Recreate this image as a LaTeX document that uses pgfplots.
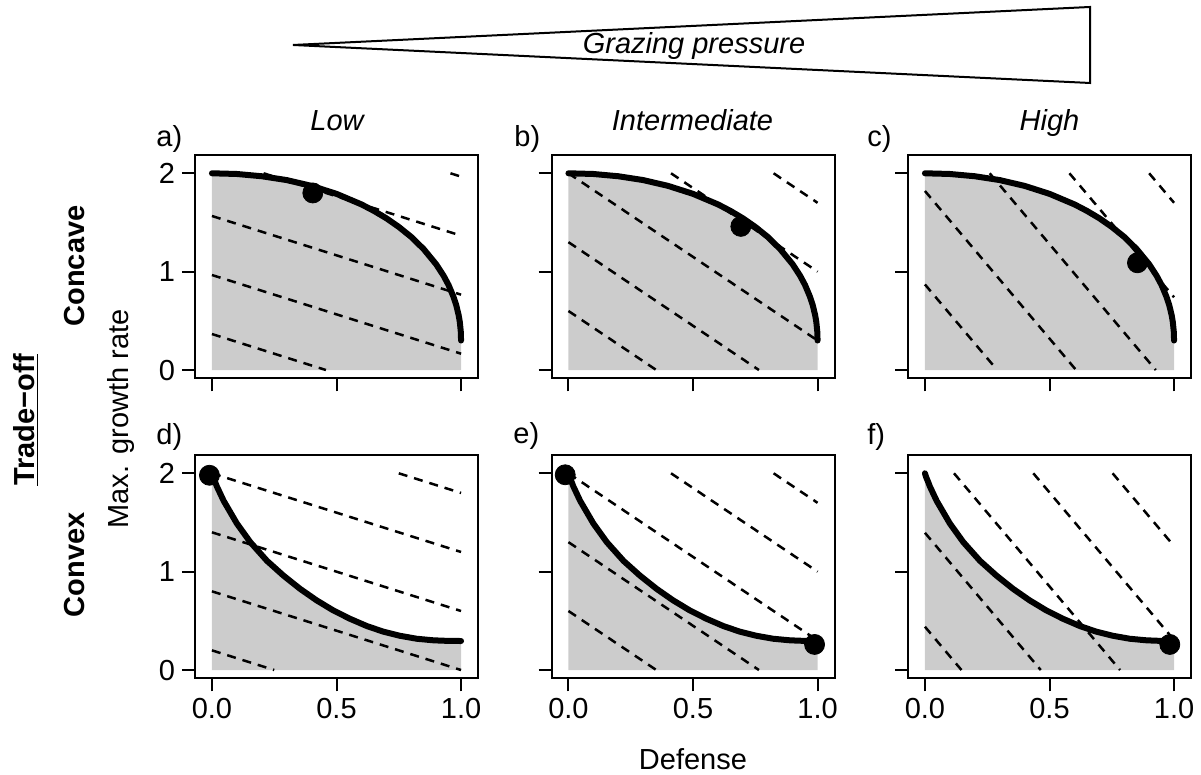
\documentclass[border=0pt]{standalone}
\usepackage{fontspec}
\setmainfont{Liberation Sans}
\usepackage{pgfplots}
\pgfplotsset{compat=1.18}
\usepackage{pgfplotstable}
\definecolor{fillgray}{RGB}{204,204,204}
\newcommand\fs{\fontsize{14.5}{17.4}\selectfont}

\pgfplotstableread{
x y
0 2.000
0.1 1.993
0.2 1.970
0.3 1.931
0.4 1.872
0.5 1.791
0.6 1.684
0.65 1.618
0.7 1.543
0.75 1.455
0.8 1.353
0.85 1.229
0.9 1.075
0.93 0.958
0.95 0.863
0.97 0.742
0.98 0.665
0.99 0.562
0.995 0.488
0.999 0.387
1.0 0.300
}\concave

\pgfplotstableread{
x y
0 2.000
0.005 1.960
0.01 1.930
0.02 1.865
0.047 1.720
0.1 1.490
0.154 1.300
0.221 1.110
0.287 0.960
0.354 0.825
0.421 0.707
0.488 0.605
0.555 0.520
0.622 0.447
0.688 0.390
0.755 0.348
0.822 0.318
0.889 0.302
0.95 0.296
1.0 0.295
}\convex

\pgfplotsset{
  panel/.style={
    scale only axis, width=141.5pt, height=111.65pt,
    xmin=-0.068, xmax=1.068, ymin=-0.084, ymax=2.186,
    xtick={0,0.5,1}, ytick={0,1,2},
    tick align=outside, xtick pos=left, ytick pos=left,
    major tick length=6.5pt,
    tick style={black, line width=1pt},
    axis line style={line width=1pt},
    xticklabels={}, yticklabels={},
    ticklabel style={font=\fs},
    /pgf/number format/assume math mode=true,
    anchor=south west,
  },
  dsh/.style={black, line width=1.25pt, dash pattern=on 4.5pt off 3.5pt},
  trade/.style={black, line width=3pt, line cap=round, line join=round},
  dot/.style={only marks, mark=*, mark size=5pt, black},
  gfill/.style={fill=fillgray, draw=none},
}

\begin{document}
\begin{tikzpicture}[x=0.5pt, y=0.5pt, font=\fs]
\useasboundingbox (0,0) rectangle (1201,775);

% a) concave, low
\begin{axis}[panel, at={(97.5pt,198.35pt)}, yticklabels={0,1,2}]
\addplot[gfill] table {\concave} \closedcycle;
\addplot[dsh] coordinates {(0,0.366) (0.4575,0)};
\addplot[dsh] coordinates {(0,0.966) (1,0.166)};
\addplot[dsh] coordinates {(0,1.566) (1,0.766)};
\addplot[dsh] coordinates {(0.2075,2) (1,1.366)};
\addplot[dsh] coordinates {(0.9575,2) (1,1.966)};
\addplot[trade] table {\concave};
\addplot[dot] coordinates {(0.405,1.80)};
\end{axis}

% b) concave, intermediate
\begin{axis}[panel, at={(275.75pt,198.35pt)}]
\addplot[gfill] table {\concave} \closedcycle;
\addplot[dsh] coordinates {(0,0.6) (0.3529,0)};
\addplot[dsh] coordinates {(0,1.3) (0.7647,0)};
\addplot[dsh] coordinates {(0,2) (1,0.3)};
\addplot[dsh] coordinates {(0.4118,2) (1,1.0)};
\addplot[dsh] coordinates {(0.8235,2) (1,1.7)};
\addplot[trade] table {\concave};
\addplot[dot] coordinates {(0.692,1.46)};
\end{axis}

% c) concave, high
\begin{axis}[panel, at={(454pt,198.35pt)}]
\addplot[gfill] table {\concave} \closedcycle;
\addplot[dsh] coordinates {(0,0.87) (0.29,0)};
\addplot[dsh] coordinates {(0,1.82) (0.6067,0)};
\addplot[dsh] coordinates {(0.26,2) (0.9267,0)};
\addplot[dsh] coordinates {(0.58,2) (1,0.74)};
\addplot[dsh] coordinates {(0.9,2) (1,1.7)};
\addplot[trade] table {\concave};
\addplot[dot] coordinates {(0.853,1.09)};
\end{axis}

% d) convex, low
\begin{axis}[panel, at={(97.5pt,48.35pt)}, yticklabels={0,1,2}, xticklabels={0.0,0.5,1.0}]
\addplot[gfill] table {\convex} \closedcycle;
\addplot[dsh] coordinates {(0,0.2) (0.25,0)};
\addplot[dsh] coordinates {(0,0.8) (1,0)};
\addplot[dsh] coordinates {(0,1.4) (1,0.6)};
\addplot[dsh] coordinates {(0,2) (1,1.2)};
\addplot[dsh] coordinates {(0.75,2) (1,1.8)};
\addplot[trade] table {\convex};
\addplot[dot] coordinates {(-0.01,1.98)};
\end{axis}

% e) convex, intermediate
\begin{axis}[panel, at={(275.75pt,48.35pt)}, xticklabels={0.0,0.5,1.0}]
\addplot[gfill] table {\convex} \closedcycle;
\addplot[dsh] coordinates {(0,0.6) (0.3529,0)};
\addplot[dsh] coordinates {(0,1.3) (0.7647,0)};
\addplot[dsh] coordinates {(0,2) (1,0.3)};
\addplot[dsh] coordinates {(0.4118,2) (1,1.0)};
\addplot[dsh] coordinates {(0.8235,2) (1,1.7)};
\addplot[trade] table {\convex};
\addplot[dot] coordinates {(-0.013,1.985) (0.988,0.26)};
\end{axis}

% f) convex, high
\begin{axis}[panel, at={(454pt,48.35pt)}, xticklabels={0.0,0.5,1.0}]
\addplot[gfill] table {\convex} \closedcycle;
\addplot[dsh] coordinates {(0,0.44) (0.1467,0)};
\addplot[dsh] coordinates {(0,1.395) (0.465,0)};
\addplot[dsh] coordinates {(0.1167,2) (0.7833,0)};
\addplot[dsh] coordinates {(0.435,2) (1,0.305)};
\addplot[dsh] coordinates {(0.7533,2) (1,1.26)};
\addplot[trade] table {\convex};
\addplot[dot] coordinates {(0.983,0.26)};
\end{axis}

% grazing pressure wedge
\draw[line width=1pt, line join=miter] (293,730) -- (1090,768) -- (1090,692) -- cycle;
\node[inner sep=0pt, font=\fs\itshape] at (694,729) {Grazing pressure};

% column titles
\node[inner sep=0pt, anchor=base, font=\fs\itshape] at (337,644) {Low};
\node[inner sep=0pt, anchor=base, font=\fs\itshape] at (692.5,644) {Intermediate};
\node[inner sep=0pt, anchor=base, font=\fs\itshape] at (1049.5,644) {High};

% panel letters
\node[inner sep=0pt, anchor=base west] at (156,628) {a)};
\node[inner sep=0pt, anchor=base west] at (514,628) {b)};
\node[inner sep=0pt, anchor=base west] at (867,628) {c)};
\node[inner sep=0pt, anchor=base west] at (156,330) {d)};
\node[inner sep=0pt, anchor=base west] at (513,331) {e)};
\node[inner sep=0pt, anchor=base west] at (867,330) {f)};

% row labels
\node[inner sep=0pt, rotate=90, font=\fs\bfseries] at (75,509) {Concave};
\node[inner sep=0pt, rotate=90, font=\fs\bfseries] at (75,210) {Convex};
\node[inner sep=0pt, rotate=90, font=\fs\bfseries] at (26,355) {\underline{Trade−off}};
\node[inner sep=0pt, rotate=90] at (121,356) {Max. growth rate};
\node[inner sep=0pt, anchor=base] at (693,5) {Defense};
\end{tikzpicture}
\end{document}
